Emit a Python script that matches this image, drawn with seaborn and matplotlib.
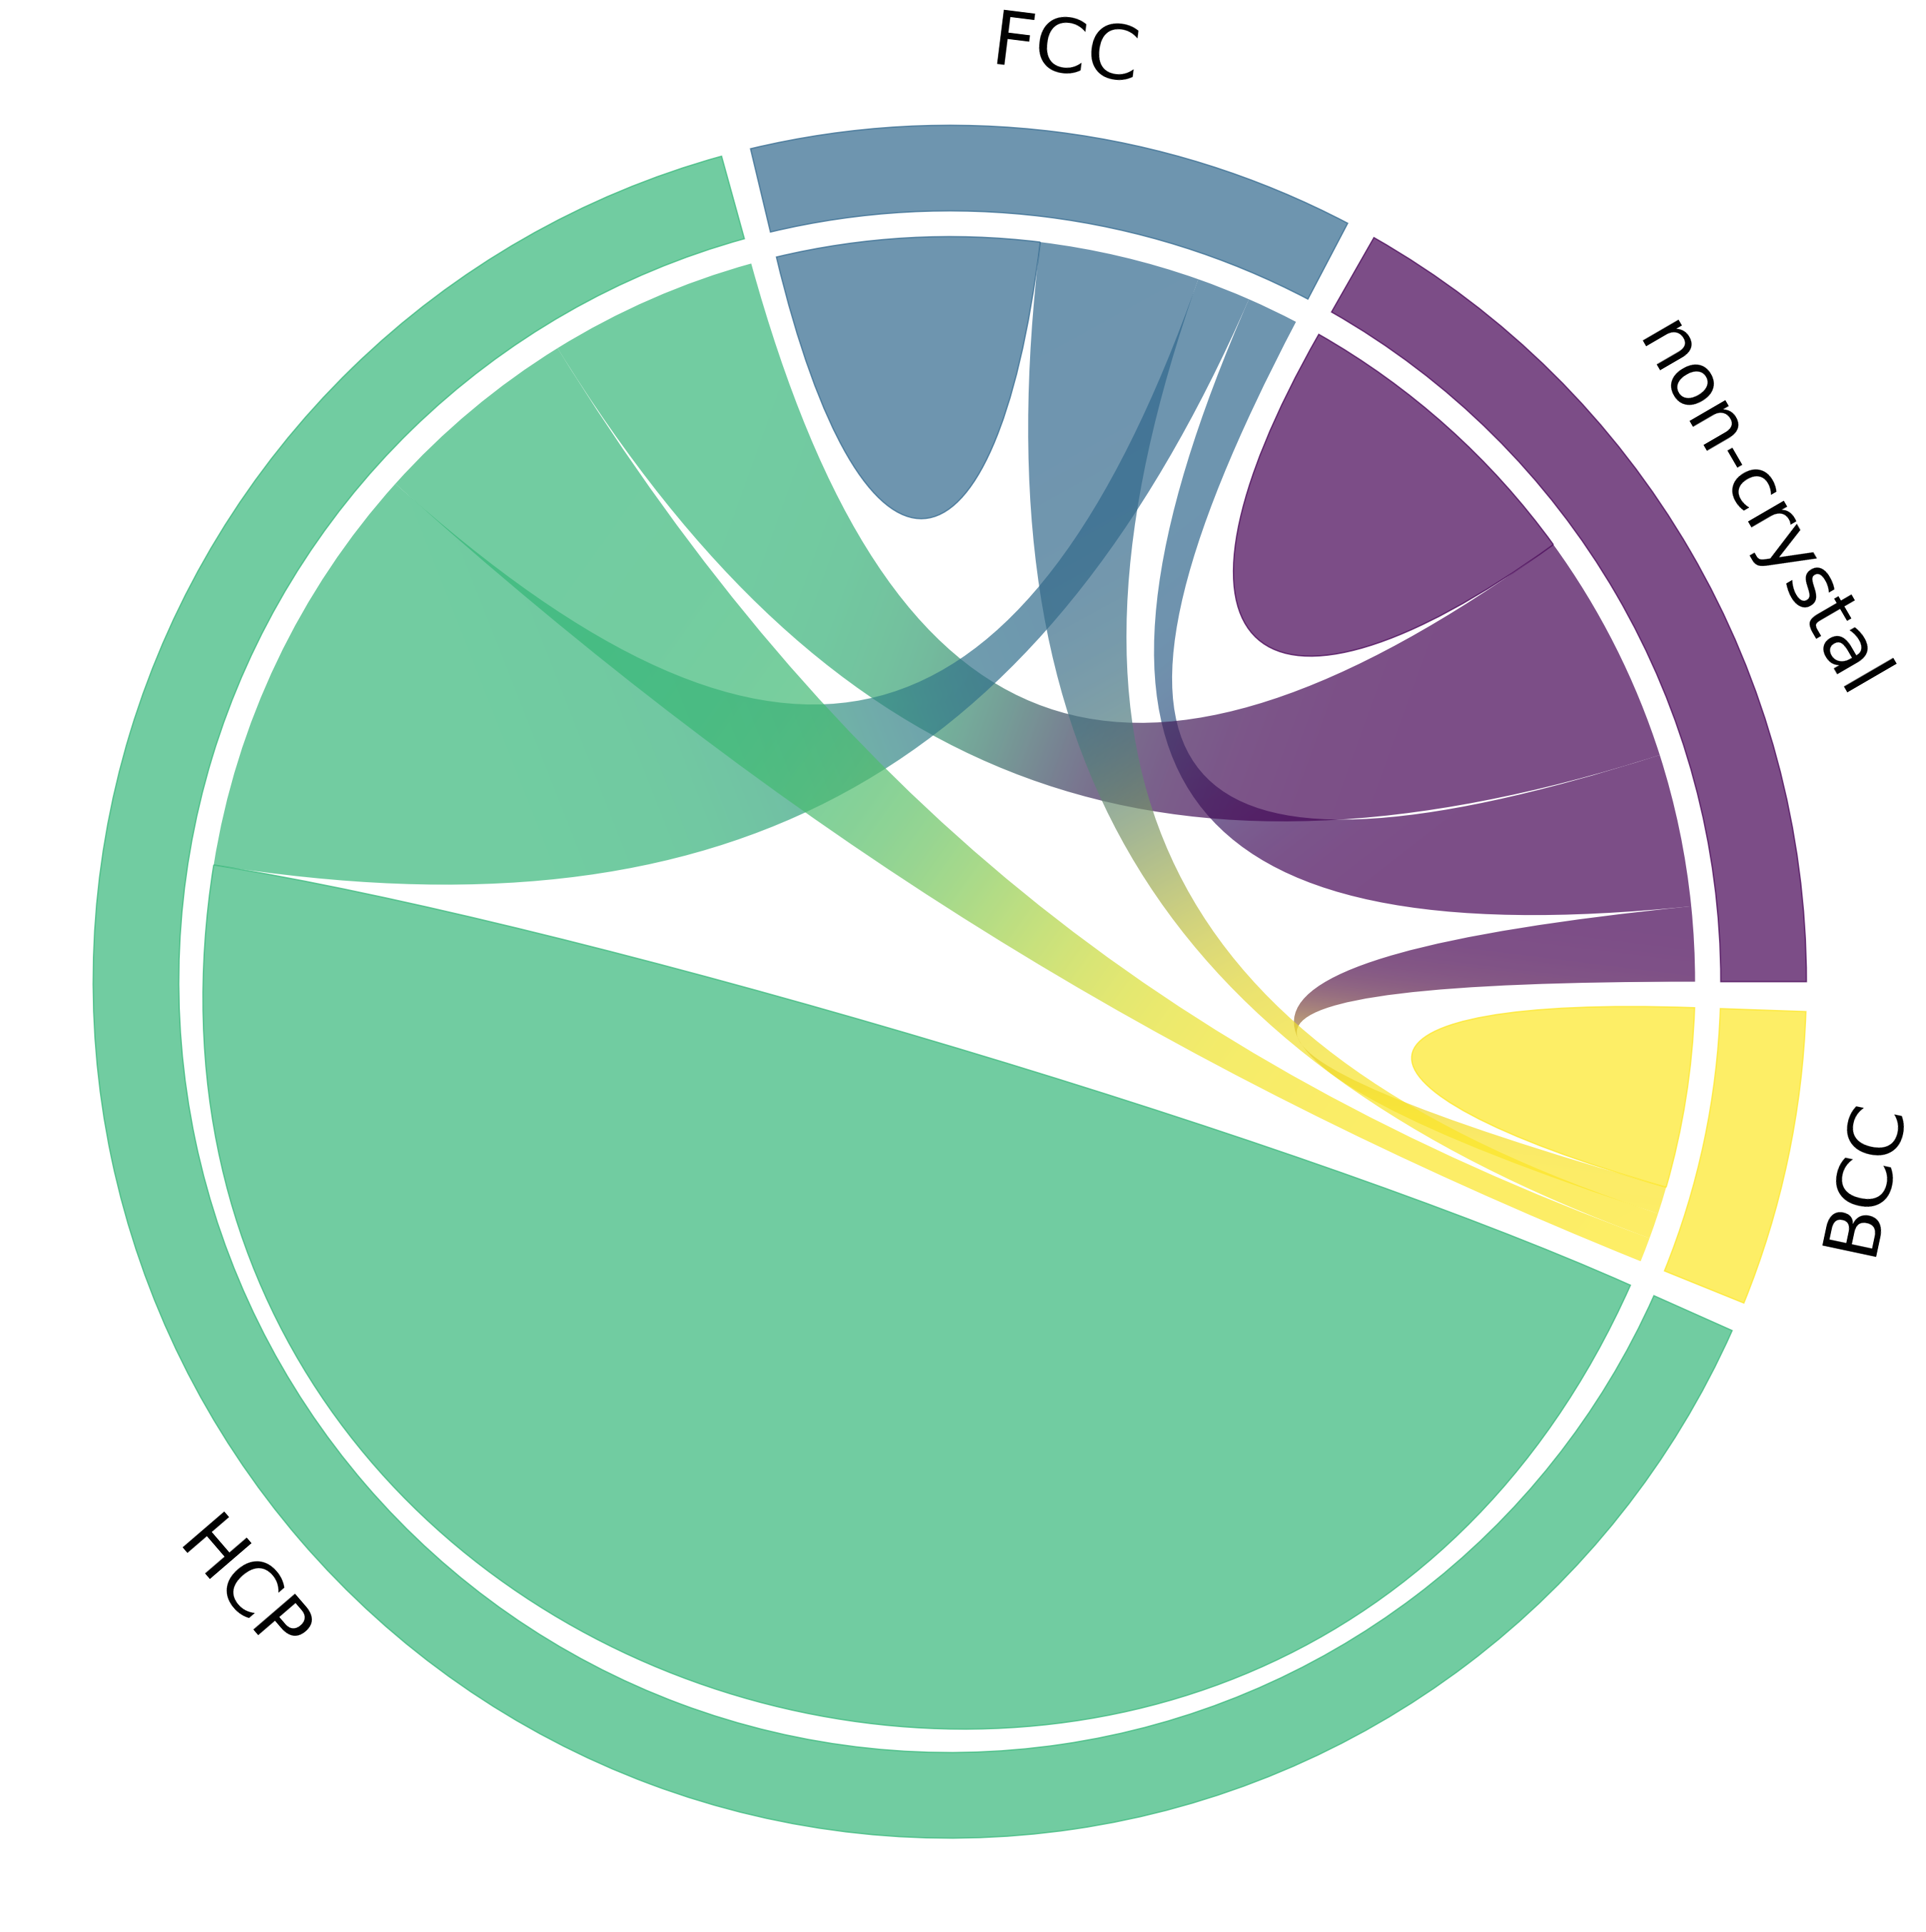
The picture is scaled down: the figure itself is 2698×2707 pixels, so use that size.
import numpy as np
import matplotlib
matplotlib.use("Agg")
import matplotlib.pyplot as plt
import matplotlib.patches as patches
from matplotlib.path import Path
import seaborn as sns

# ---------------- data (share of atoms, %; row = from, column = to) -------------
names = ["non-crystal", "FCC", "HCP", "BCC"]
from_noncrystal = [6.93, 3.38, 5.17, 1.65]
from_fcc = [1.14, 5.80, 1.19, 3.55]
from_hcp = [4.63, 9.35, 46.85, 4.63]
from_bcc = [0.60, 0.57, 0.54, 3.98]

mat = np.array([from_noncrystal, from_fcc, from_hcp, from_bcc], dtype=float)

# ---------------- style ----------------
sns.set_theme(style="white")
plt.rcParams["font.family"] = ["DejaVu Sans"]
plt.rcParams["text.color"] = "black"
cmap = sns.color_palette("viridis", as_cmap=True)
colors = [np.array(c) for c in cmap(np.linspace(0, 1, len(names)))]

ALPHA = 0.7
PAD = 2.0          # degrees between arcs
WIDTH = 0.1        # ring width
GAP = 0.03         # gap between ring and chords
CHORDWIDTH = 0.7
LW = 1.3
FONTSIZE = 76

W, H, DPI = 2698, 2707, 100
CX, CY, RPX = 1330.5, 1375.5, 1200.0

fig = plt.figure(figsize=(W / DPI, H / DPI), dpi=DPI)
ax = fig.add_axes([0, 0, 1, 1])
ax.set_axis_off()


def pxy(r, t):
    return np.array([r * np.cos(t), r * np.sin(t)])


def ring_path(t1, t2, r_out=1.0, r_in=0.9):
    a = Path.arc(t1, t2)
    v_out = a.vertices * r_out
    v_in = a.vertices[::-1] * r_in
    verts = np.concatenate([v_out, v_in, v_out[:1]])
    codes = ([Path.MOVETO] + list(a.codes[1:]) + [Path.LINETO] +
             list(a.codes[1:]) + [Path.CLOSEPOLY])
    return Path(verts, codes)


def chord_path(s1, e1, s2, e2, radius, chordwidth):
    s1, e1 = sorted((s1, e1))
    s2, e2 = sorted((s2, e2))
    s1, e1, s2, e2 = np.radians([s1, e1, s2, e2])
    o1 = 4. / 3. * np.tan((e1 - s1) / 4.) * radius
    o2 = 4. / 3. * np.tan((e2 - s2) / 4.) * radius
    rc = radius * (1 - chordwidth)
    verts = [
        pxy(radius, s1),
        pxy(radius, s1) + pxy(o1, s1 + 0.5 * np.pi),
        pxy(radius, e1) + pxy(o1, e1 - 0.5 * np.pi),
        pxy(radius, e1),
        pxy(rc, e1),
        pxy(rc, s2),
        pxy(radius, s2),
        pxy(radius, s2) + pxy(o2, s2 + 0.5 * np.pi),
        pxy(radius, e2) + pxy(o2, e2 - 0.5 * np.pi),
        pxy(radius, e2),
        pxy(rc, e2),
        pxy(rc, s1),
        pxy(radius, s1),
    ]
    codes = [Path.MOVETO] + [Path.CURVE4] * 12
    return Path(verts, codes)


def self_chord_path(s, e, radius, chordwidth):
    s, e = sorted((s, e))
    s, e = np.radians([s, e])
    o = 4. / 3. * np.tan((e - s) / 4.) * radius
    rc = radius * (1 - chordwidth)
    verts = [
        pxy(radius, s),
        pxy(radius, s) + pxy(o, s + 0.5 * np.pi),
        pxy(radius, e) + pxy(o, e - 0.5 * np.pi),
        pxy(radius, e),
        pxy(rc, e),
        pxy(rc, s),
        pxy(radius, s),
    ]
    codes = [Path.MOVETO] + [Path.CURVE4] * 6
    return Path(verts, codes)


NG = 900
g = np.linspace(-1, 1, NG)
GX, GY = np.meshgrid(g, g)


def gradient_fill(path, p0, p1, min_angle, c0, c1):
    d = p1 - p0
    dist2 = float(d @ d)
    mid = 0.5 * (p0 + p1)
    s = ((GX - mid[0]) * d[0] + (GY - mid[1]) * d[1]) / np.sqrt(dist2)
    smin = 0.05
    smax = max(smin, 0.2 * min(min_angle / 120., 1.))
    sigma = np.clip(2 * dist2, smin, smax)
    Z = 1. / (1. + np.exp(-1.702 * s / sigma))
    rgba = np.ones((NG, NG, 4))
    rgba[..., :3] = c0[:3] * (1 - Z)[..., None] + c1[:3] * Z[..., None]
    im = ax.imshow(rgba, origin="lower", extent=[-1, 1, -1, 1],
                   interpolation="bilinear", alpha=ALPHA, aspect="auto")
    clip = patches.PathPatch(path, transform=ax.transData,
                             facecolor="none", edgecolor="none")
    im.set_clip_path(clip)


# ---------------- layout ----------------
n = len(names)
degree = mat.sum(axis=1)
total = degree.sum()
y = degree / total * (360 - PAD * n)
arcs = []
pos = {}
x = 0.0
for i in range(n):
    start, end = x, x + y[i]
    arcs.append((start, end))
    z = mat[i] / total * (360 - PAD * n)
    z0 = start
    for j in np.argsort(mat[i], kind="stable"):
        pos[(i, j)] = (z0, z0 + z[j])
        z0 += z[j]
    x = end + PAD

rchord = 1 - WIDTH - GAP

# ---------------- drawing ----------------
for i in range(n):
    c = colors[i]
    s, e = arcs[i]
    ax.add_patch(patches.PathPatch(ring_path(s, e, 1.0, 1 - WIDTH), facecolor=c,
                                   edgecolor=c, alpha=ALPHA, lw=LW))
    if mat[i, i] > 0:
        s, e = pos[(i, i)]
        ax.add_patch(patches.PathPatch(
            self_chord_path(s, e, rchord, 0.7 * CHORDWIDTH), facecolor=c,
            edgecolor=c, alpha=ALPHA, lw=LW))
    for j in range(i):
        s1, e1 = pos[(i, j)]
        s2, e2 = pos[(j, i)]
        if mat[i, j] > 0 or mat[j, i] > 0:
            path = chord_path(s1, e1, s2, e2, rchord, CHORDWIDTH)
            m1 = 0.5 * (s1 + e1)
            m2 = 0.5 * (s2 + e2)
            dang = abs(m1 - m2) % 360
            dang = min(dang, 360 - dang)
            p0 = pxy(rchord, np.radians(m1))
            p1 = pxy(rchord, np.radians(m2))
            gradient_fill(path, p0, p1, dang, colors[i], colors[j])

# labels
for i in range(n):
    s, e = arcs[i]
    angle = 0.5 * (s + e)
    if -30 <= angle <= 180:
        rot = angle - 90
        va = "bottom"
    else:
        rot = angle - 270
        va = "top"
    px, py = pxy(1.05, np.radians(angle))
    ax.text(px, py, names[i], rotation=rot, ha="center", va=va,
            rotation_mode="anchor", fontsize=FONTSIZE, color="black")

ax.set_xlim(-CX / RPX, (W - CX) / RPX)
ax.set_ylim(-(H - CY) / RPX, CY / RPX)
ax.set_aspect("auto")

fig.savefig("out.png", dpi=DPI, facecolor="white")
